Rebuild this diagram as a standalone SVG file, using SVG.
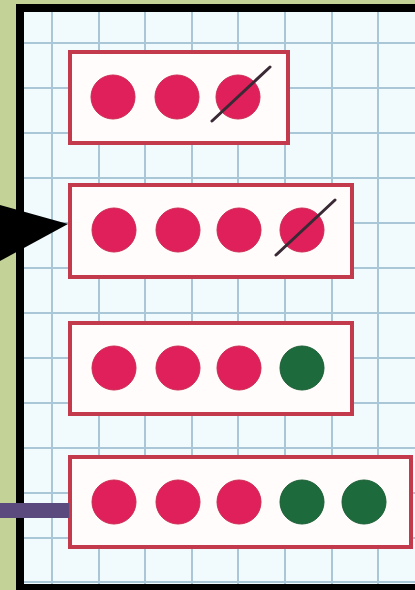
<svg xmlns="http://www.w3.org/2000/svg" width="415" height="590" viewBox="0 0 415 590">
<style>
.grid line{stroke:#a9c7d6;stroke-width:2}
.box{fill:#fffcfb;stroke:#c23a4b;stroke-width:4}
.p{fill:#e0205a;stroke:#cc2a52;stroke-width:1}
.g{fill:#1d6b3c;stroke:#1a5e34;stroke-width:1}
.slash{stroke:#3a2a35;stroke-width:3;stroke-linecap:round}
</style>
<rect x="0" y="0" width="415" height="590" fill="#c3d297"/>
<rect x="16" y="4" width="399" height="586" fill="#000"/>
<rect x="24" y="12" width="391" height="572" fill="#f1fafd"/>
<g class="grid">
<line x1="52" y1="12" x2="52" y2="584"/>
<line x1="99" y1="12" x2="99" y2="584"/>
<line x1="145" y1="12" x2="145" y2="584"/>
<line x1="192" y1="12" x2="192" y2="584"/>
<line x1="238" y1="12" x2="238" y2="584"/>
<line x1="285" y1="12" x2="285" y2="584"/>
<line x1="332" y1="12" x2="332" y2="584"/>
<line x1="378" y1="12" x2="378" y2="584"/>
<line x1="24" y1="43" x2="415" y2="43"/>
<line x1="24" y1="88" x2="415" y2="88"/>
<line x1="24" y1="133" x2="415" y2="133"/>
<line x1="24" y1="178" x2="415" y2="178"/>
<line x1="24" y1="223" x2="415" y2="223"/>
<line x1="24" y1="268" x2="415" y2="268"/>
<line x1="24" y1="313" x2="415" y2="313"/>
<line x1="24" y1="358" x2="415" y2="358"/>
<line x1="24" y1="403" x2="415" y2="403"/>
<line x1="24" y1="448" x2="415" y2="448"/>
<line x1="24" y1="493" x2="415" y2="493"/>
<line x1="24" y1="538" x2="415" y2="538"/>
<line x1="24" y1="582" x2="415" y2="582"/>
</g>
<g id="node1">
<rect class="box" x="70" y="52" width="218" height="91"/>
<circle class="p" cx="113" cy="97" r="22"/>
<circle class="p" cx="177" cy="97" r="22"/>
<circle class="p" cx="238" cy="97" r="22"/>
<line class="slash" x1="212" y1="121" x2="270" y2="67"/>
</g>
<g id="node2">
<rect class="box" x="70" y="185" width="282" height="92"/>
<circle class="p" cx="114" cy="230" r="22"/>
<circle class="p" cx="178" cy="230" r="22"/>
<circle class="p" cx="239" cy="230" r="22"/>
<circle class="p" cx="302" cy="230" r="22"/>
<line class="slash" x1="276" y1="255" x2="335" y2="200"/>
</g>
<g id="node3">
<rect class="box" x="70" y="323" width="282" height="91"/>
<circle class="p" cx="114" cy="368" r="22"/>
<circle class="p" cx="178" cy="368" r="22"/>
<circle class="p" cx="239" cy="368" r="22"/>
<circle class="g" cx="302" cy="368" r="22"/>
</g>
<g id="node4">
<rect class="box" x="70" y="457" width="341" height="90"/>
<circle class="p" cx="114" cy="502" r="22"/>
<circle class="p" cx="178" cy="502" r="22"/>
<circle class="p" cx="239" cy="502" r="22"/>
<circle class="g" cx="302" cy="502" r="22"/>
<circle class="g" cx="364" cy="502" r="22"/>
</g>
<g id="connectors">
<polygon points="0,205 68,224 0,261" fill="#000"/>
<rect x="0" y="503" width="69" height="15" fill="#5b4a7d"/>
</g>
</svg>
